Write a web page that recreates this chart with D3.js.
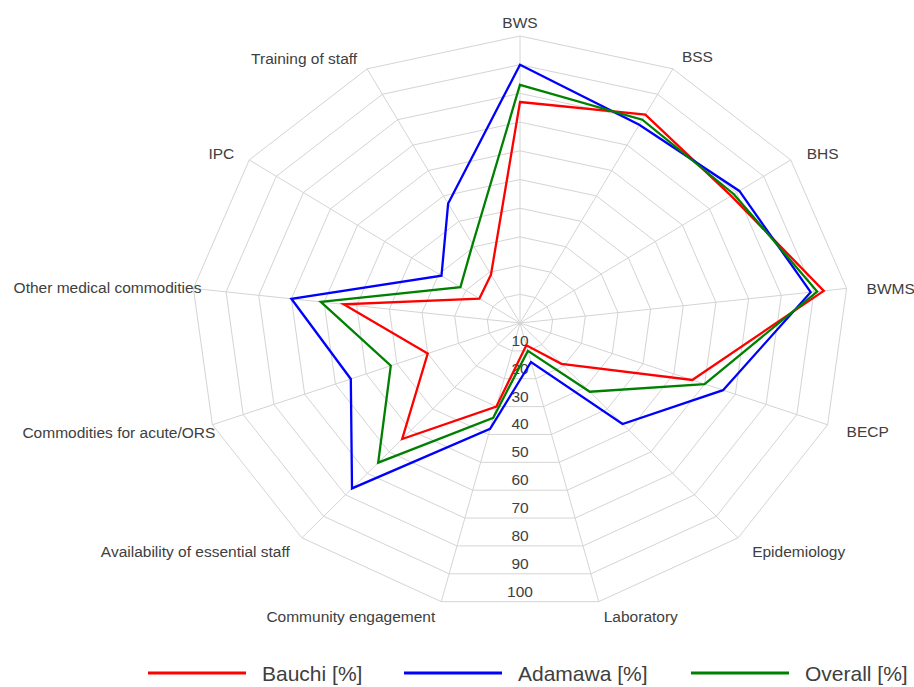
<!DOCTYPE html>
<html>
<head>
<meta charset="utf-8">
<title>Radar</title>
<script src="https://d3js.org/d3.v7.min.js"></script>
<style>
  body { margin: 0; background: #fff; }
  #chart text { font-family: "Liberation Sans", Arial, sans-serif; fill: #404040; }
  #chart .grid { fill: none; stroke: #d4d4d4; stroke-width: 1; }
  #chart .spoke { stroke: #d4d4d4; stroke-width: 1; }
</style>
</head>
<body>
<svg id="chart"></svg>
<script>
var categories = ["BWS", "BSS", "BHS", "BWMS", "BECP", "Epidemiology", "Laboratory",
  "Community engagement", "Availability of essential staff", "Commodities for acute/ORS",
  "Other medical commodities", "IPC", "Training of staff"];
var bauchi  = [77, 82, 78, 93, 56, 19, 8, 30, 54, 30, 54, 15, 19];
var adamawa = [90, 78, 81, 89, 66, 47, 14, 38, 77, 55, 70, 29, 47];
var overall = [83, 80, 79, 91, 60, 32, 10, 34, 65, 42, 61, 22, 31];
var ticks = [10, 20, 30, 40, 50, 60, 70, 80, 90, 100];
var seriesNames = ["Bauchi [%]", "Adamawa [%]", "Overall [%]"];
var seriesColors = ["#ff0000", "#0000ff", "#008000"];

var width = 914, height = 687;
var cx = 520, cy = 323;
var svg = d3.select("#chart").attr("width", width).attr("height", height);

// chart is a little wider than tall
var rx = d3.scaleLinear().domain([0, 100]).range([0, 329]);
var ry = d3.scaleLinear().domain([0, 100]).range([0, 287]);
var angle = d3.scaleLinear().domain([0, categories.length]).range([0, 2 * Math.PI]);

function px(i, v) { return cx + rx(v) * Math.sin(angle(i)); }
function py(i, v) { return cy - ry(v) * Math.cos(angle(i)); }

var g = svg.append("g");

// rings
g.selectAll(".grid")
  .data(ticks)
  .enter().append("polygon")
  .attr("class", "grid")
  .attr("points", function (t) {
    return categories.map(function (c, i) { return px(i, t) + "," + py(i, t); }).join(" ");
  });

// spokes
g.selectAll(".spoke")
  .data(categories)
  .enter().append("line")
  .attr("class", "spoke")
  .attr("x1", cx).attr("y1", cy)
  .attr("x2", function (c, i) { return px(i, 100); })
  .attr("y2", function (c, i) { return py(i, 100); });

// tick labels, down the gap between Laboratory and Community engagement
var half = Math.cos(Math.PI / categories.length);
g.selectAll(".tick")
  .data(ticks)
  .enter().append("text")
  .attr("class", "tick")
  .attr("x", cx)
  .attr("y", function (t) { return cy + ry(t) * half - 5; })
  .attr("text-anchor", "middle")
  .style("font-size", "15.5px")
  .text(function (t) { return t; });

// category labels: anchor, dx, dy from outer vertex
var labelPos = [
  ["middle", 0, -8], ["start", 9, -6.5], ["start", 16, -1], ["start", 20, 5.5],
  ["start", 19, 12], ["start", 14, 19], ["start", 5, 20], ["end", -6, 20],
  ["end", -12, 19], ["end", 3, 13], ["end", 8, 5], ["end", -15, -1], ["end", -10, -5]
];
g.selectAll(".cat")
  .data(categories)
  .enter().append("text")
  .attr("class", "cat")
  .attr("x", function (c, i) { return px(i, 100) + labelPos[i][1]; })
  .attr("y", function (c, i) { return py(i, 100) + labelPos[i][2]; })
  .attr("text-anchor", function (c, i) { return labelPos[i][0]; })
  .style("font-size", "15.5px")
  .text(function (c) { return c; });

// series
var series = [bauchi, adamawa, overall];
var line = d3.line()
  .x(function (v, i) { return px(i, v); })
  .y(function (v, i) { return py(i, v); })
  .curve(d3.curveLinearClosed);

g.selectAll(".series")
  .data(series)
  .enter().append("path")
  .attr("class", "series")
  .attr("d", function (d) { return line(d); })
  .attr("fill", "none")
  .attr("stroke", function (d, i) { return seriesColors[i]; })
  .attr("stroke-width", 2.3)
  .attr("stroke-linejoin", "miter");

// legend
var legendX = [148, 404, 691];
var legend = svg.append("g").selectAll("g")
  .data(seriesNames)
  .enter().append("g")
  .attr("transform", function (d, i) { return "translate(" + legendX[i] + ",673)"; });
legend.append("line")
  .attr("x1", 0).attr("x2", 98)
  .attr("stroke", function (d, i) { return seriesColors[i]; })
  .attr("stroke-width", 3);
legend.append("text")
  .attr("x", 114).attr("y", 7.5)
  .style("font-size", "21px")
  .text(function (d) { return d; });
</script>
</body>
</html>
